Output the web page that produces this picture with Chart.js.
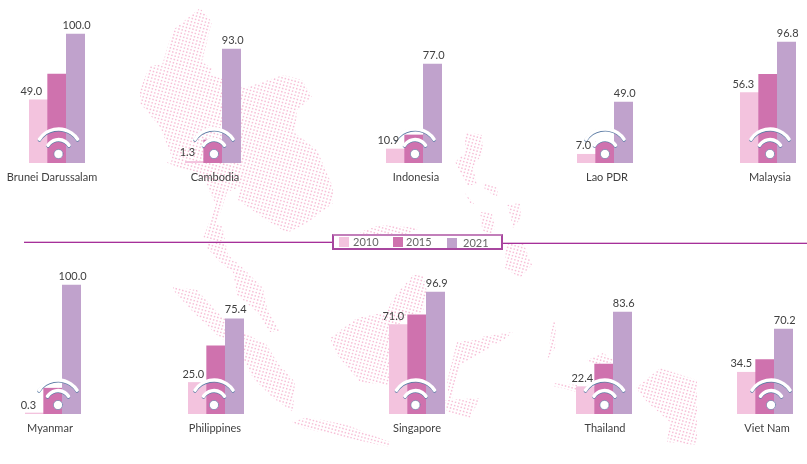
<!DOCTYPE html>
<html>
<head>
<meta charset="utf-8">
<title>Internet access in ASEAN</title>
<script src="https://cdn.jsdelivr.net/npm/chart.js@4"></script>
<style>
    html, body { margin: 0; padding: 0; background: #fff; }
    #page { position: relative; width: 807px; height: 464px; overflow: hidden; font-family: Lato, sans-serif; }
    #page canvas { position: absolute; }
    .rule { position: absolute; height: 2px; background: linear-gradient(#e3bcdc 50%, #a5309a 50%); }
    #legend { position: absolute; left: 332px; top: 234px; width: 167px; height: 12px; border: 2px solid #a8479f; border-top-color: #c27fba; background: rgba(255,255,255,0.95); will-change: transform; }
    #legend div { position: absolute; }
    #legend .text { font-size: 11px; line-height: 14px; color: #666; }
</style>
</head>
<body>
<div id="page">
    <canvas id="map" width="807" height="464" style="left:0;top:0"></canvas>
    <div class="rule" style="left:24px;top:241px;width:309px"></div>
    <div class="rule" style="left:503px;top:242px;width:304px"></div>
    <div id="legend"></div>
</div>
<script>
const years = ['2010', '2015', '2021'];
const countries = ['Brunei Darussalam', 'Cambodia', 'Indonesia', 'Lao PDR', 'Malaysia',
    'Myanmar', 'Philippines', 'Singapore', 'Thailand', 'Viet Nam'];
const values2010 = [49.0, 1.3, 10.9, 7.0, 56.3, 0.3, 25.0, 71.0, 22.4, 34.5];
const values2015 = [69, 18.8, 21.8, 16.9, 71, 20, 54, 78.8, 41, 45]; // no labels on these
const values2021 = [100.0, 93.0, 77.0, 49.0, 96.8, 100.0, 75.4, 96.9, 83.6, 70.2];
const axisMax = [108.5, 114.2, 108.9, 112.4, 112, 108.5, 111, 111.3, 114.8, 115.7];

const barColors = ['#f3c3de', '#cf72ae', '#c0a2cc'];

// layout, one entry per country
const plotLeft = [29, 185, 386, 577, 740, 25, 188, 389, 576, 737];
const nameNudge = [-5, 2, 2, 2, 2, -3, -1, 0, 1, 2];
const iconNudge = [1.5, 1, 1, 0, 2, 5, -2, -1.5, 0.5, 6];
const label2010Nudge = [-7, -7, -7, -3, -6, -6, -4, -5, -3, -5];

const CANVAS_W = 160, CANVAS_H = 190, PLOT_W = 56, PLOT_TOP = 23, PLOT_H = 140;

// dotted ASEAN map behind the charts, just decoration
const mapShapes = [
    [[200,8],[212,22],[208,37],[202,62],[212,68],[212,75],[245,88],[283,75],[302,80],[312,97],[297,110],[295,133],[317,150],[333,187],[333,203],[307,223],[287,233],[262,217],[238,200],[240,187],[227,192],[212,238],[203,238],[216,205],[203,177],[165,162],[173,160],[160,127],[140,103],[140,90],[150,65],[162,65],[173,30]],
    [[210,225],[222,225],[228,255],[243,268],[263,288],[267,308],[280,332],[270,332],[257,312],[237,295],[233,272],[220,262],[207,248]],
    [[173,287],[197,290],[220,315],[243,332],[267,345],[277,362],[295,382],[293,412],[273,398],[253,378],[240,352],[217,335],[193,312],[173,290]],
    [[292,422],[307,417],[347,425],[390,442],[390,447],[347,438],[303,428]],
    [[330,338],[357,318],[387,312],[393,298],[413,275],[423,275],[427,292],[423,312],[407,315],[390,335],[390,385],[360,382],[337,355]],
    [[457,342],[490,338],[490,348],[460,365],[450,408],[447,382],[453,358]],
    [[636,388],[660,368],[697,380],[697,445],[667,442],[670,422],[647,402]],
    [[547,360],[553,322],[556,322],[555,348]],
    [[480,337],[513,332],[500,343],[485,345]],
    [[506,242],[523,242],[532,265],[520,278],[505,268]],
    [[587,360],[603,353],[617,362],[593,364]],
    [[553,383],[577,385],[577,392],[553,386]],
    [[465,132],[482,135],[483,153],[473,167],[477,185],[467,185],[455,162],[465,153]],
    [[483,183],[498,188],[497,197],[485,190]],
    [[465,193],[475,205],[470,203]],
    [[507,205],[520,203],[521,218],[513,228],[510,215]],
    [[480,212],[492,213],[495,228],[488,240],[482,228]],
    [[380,225],[420,228],[385,244],[360,232]],
    [[445,400],[480,398],[470,418],[447,412]]
];

function drawMap() {
    const ctx = document.getElementById('map').getContext('2d');
    ctx.save();
    ctx.beginPath();
    mapShapes.forEach(shape => {
        shape.forEach((p, i) => i ? ctx.lineTo(p[0], p[1]) : ctx.moveTo(p[0], p[1]));
        ctx.closePath();
    });
    ctx.clip();
    // slightly tilted grid of small squares
    ctx.translate(400, 232);
    ctx.rotate(15 * Math.PI / 180);
    ctx.fillStyle = '#f7bfd7';
    for (let x = -600; x < 600; x += 3.4) {
        for (let y = -500; y < 500; y += 3.4) {
            ctx.fillRect(x, y, 1.5, 1.5);
        }
    }
    ctx.restore();
}

function buildLegend() {
    const legend = document.getElementById('legend');
    const swatchLeft = [5, 59, 113];
    const textLeft = [19, 72, 129];
    const swatchTop = [1, 1, 2];
    years.forEach((year, i) => {
        const swatch = document.createElement('div');
        swatch.style.cssText = `left:${swatchLeft[i]}px;top:${swatchTop[i]}px;width:10px;height:10px;background:${barColors[i]}`;
        const text = document.createElement('div');
        text.className = 'text';
        text.style.cssText = `left:${textLeft[i]}px;top:${i === 2 ? 0 : -1}px`;
        text.textContent = year;
        legend.appendChild(swatch);
        legend.appendChild(text);
    });
}

function drawArc(ctx, x, y, r, halfAngle, color, width) {
    ctx.beginPath();
    ctx.arc(x, y, r, -Math.PI / 2 - halfAngle, -Math.PI / 2 + halfAngle);
    ctx.lineCap = 'round';
    ctx.lineWidth = width;
    ctx.strokeStyle = color;
    ctx.stroke();
}

function drawWifi(ctx, x, baseline) {
    const cy = baseline - 11;
    const arcs = [[23, 0.98], [12.5, 1.0]];
    arcs.forEach(a => {
        drawArc(ctx, x, cy + 0.8, a[0], a[1], '#5f7ea6', 3.4);
        drawArc(ctx, x, cy, a[0], a[1], '#fff', 3.4);
    });
    ctx.beginPath();
    ctx.arc(x, baseline - 9, 4.6, 0, Math.PI * 2);
    ctx.fillStyle = '#fff';
    ctx.fill();
    ctx.lineWidth = 0.6;
    ctx.strokeStyle = '#5f7ea6';
    ctx.stroke();
}

// value labels, country name and the wifi icon for one panel
const panelDecor = {
    id: 'panelDecor',
    afterDatasetsDraw(chart, args, opts) {
        const ctx = chart.ctx;
        const bars = chart.getDatasetMeta(0).data;
        const yScale = chart.scales.y;
        const data = chart.data.datasets[0].data;
        const area = chart.chartArea;
        const centre = (area.left + area.right) / 2;

        ctx.save();
        drawWifi(ctx, centre + opts.iconNudge, area.bottom);

        ctx.font = '11px Lato, sans-serif';
        ctx.fillStyle = '#404040';
        ctx.textAlign = 'center';
        ctx.textBaseline = 'middle';
        ctx.fillText(data[0].toFixed(1), bars[0].x + opts.label2010Nudge, yScale.getPixelForValue(data[0]) - 8.5);
        ctx.fillText(data[2].toFixed(1), bars[2].x + 1, yScale.getPixelForValue(data[2]) - 9);
        ctx.fillText(opts.name, centre + opts.nameNudge, area.bottom + 14.5);
        ctx.restore();
    }
};

function createPanel(index) {
    const canvas = document.createElement('canvas');
    canvas.width = CANVAS_W;
    canvas.height = CANVAS_H;
    const pad = (CANVAS_W - PLOT_W) / 2;
    canvas.style.left = (plotLeft[index] - pad) + 'px';
    canvas.style.top = (index < 5 ? 0 : 251) + 'px';
    document.getElementById('page').insertBefore(canvas, document.querySelector('.rule'));

    new Chart(canvas.getContext('2d'), {
        type: 'bar',
        data: {
            labels: years,
            datasets: [{
                data: [values2010[index], values2015[index], values2021[index]],
                backgroundColor: barColors,
                borderWidth: 0,
                barPercentage: 1,
                categoryPercentage: 1,
                minBarLength: 1
            }]
        },
        options: {
            responsive: false,
            animation: false,
            layout: {
                padding: { left: pad, right: pad, top: PLOT_TOP, bottom: CANVAS_H - PLOT_TOP - PLOT_H }
            },
            scales: {
                x: { display: false },
                y: { display: false, min: 0, max: axisMax[index] }
            },
            plugins: {
                legend: { display: false },
                tooltip: { enabled: false },
                panelDecor: {
                    name: countries[index],
                    nameNudge: nameNudge[index],
                    iconNudge: iconNudge[index],
                    label2010Nudge: label2010Nudge[index]
                }
            }
        },
        plugins: [panelDecor]
    });
}

drawMap();
buildLegend();
countries.forEach((name, i) => createPanel(i));
</script>
</body>
</html>
